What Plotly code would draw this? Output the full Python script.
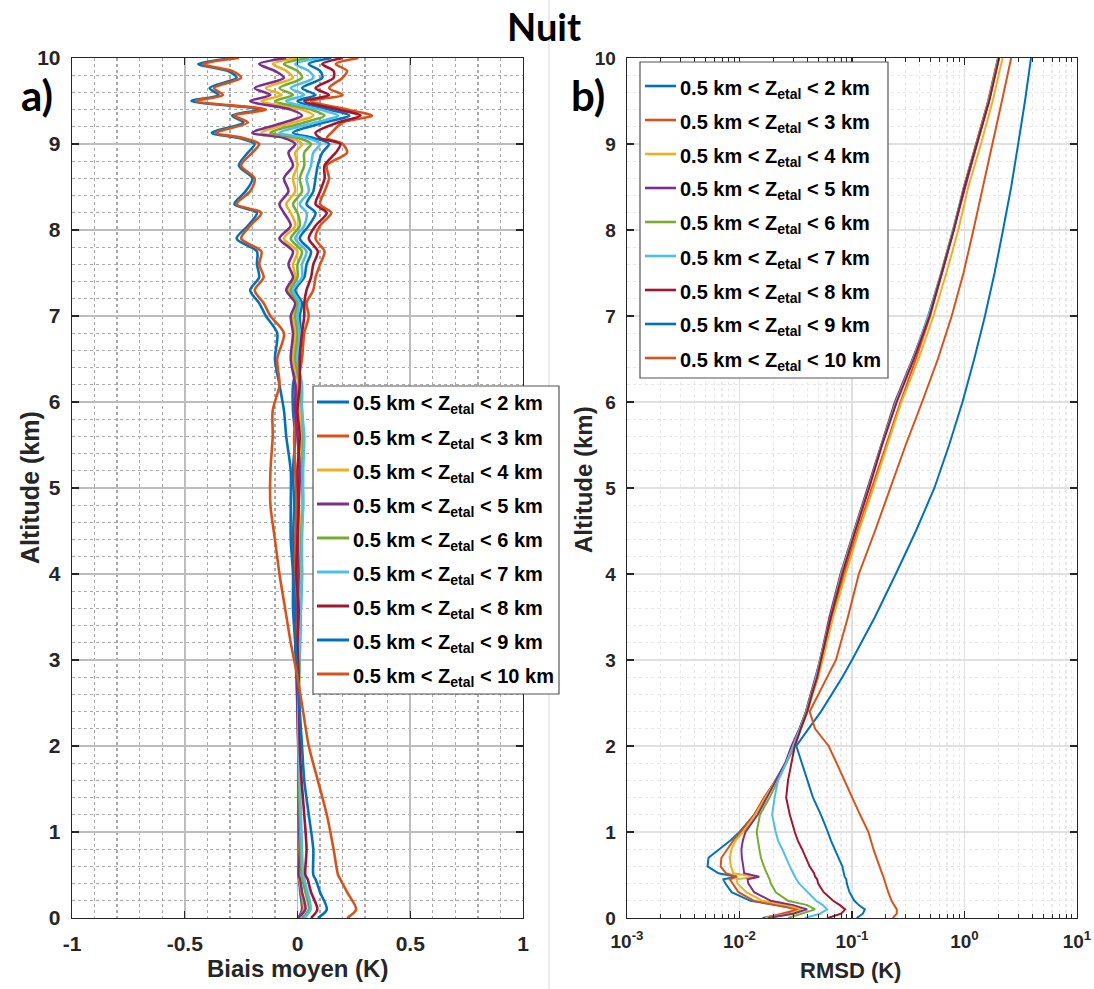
import plotly.graph_objects as go

# ---------------- data ----------------
labels = ["0.5 km &lt; Z<sub>etal</sub> &lt; 2 km", "0.5 km &lt; Z<sub>etal</sub> &lt; 3 km",
          "0.5 km &lt; Z<sub>etal</sub> &lt; 4 km", "0.5 km &lt; Z<sub>etal</sub> &lt; 5 km",
          "0.5 km &lt; Z<sub>etal</sub> &lt; 6 km", "0.5 km &lt; Z<sub>etal</sub> &lt; 7 km",
          "0.5 km &lt; Z<sub>etal</sub> &lt; 8 km", "0.5 km &lt; Z<sub>etal</sub> &lt; 9 km",
          "0.5 km &lt; Z<sub>etal</sub> &lt; 10 km"]
colors = ["#0072BD", "#D95319", "#EDB120", "#7E2F8E", "#77AC30",
          "#4DBEEE", "#A2142F", "#0072BD", "#D95319"]

# altitudes (km) for panel a
alt_a = [0, 0.1, 0.3, 0.45, 0.5, 0.8, 1.2, 1.6, 2.0, 2.4, 2.8, 3.2, 3.6, 4.0, 4.4, 4.8, 5.2,
         5.6, 5.9, 6.2, 6.5, 6.8, 7.0, 7.15, 7.3, 7.45, 7.6, 7.75, 7.9, 8.05, 8.2, 8.3, 8.45,
         8.6, 8.75, 8.9, 9.0, 9.07, 9.13, 9.25, 9.33, 9.4, 9.5, 9.57, 9.65, 9.77, 9.85, 9.93, 10.0]

bias_2km = [0.005, 0.02, 0.012, 0.007, 0.004, 0.005, 0.004, 0.004, 0.004,
            0.0, -0.005, -0.01, -0.01, -0.015, -0.02, -0.015, -0.02, -0.01, -0.02, -0.02,
            0.005, 0.015, 0.01, 0.02, -0.01, 0.03, 0.04, 0.06, 0.01, 0.05, 0.08, 0.04, 0.07, 0.08,
            0.09, 0.11, 0.14, 0.07, -0.02, 0.12, 0.23, 0.14, 0.0, 0.08, 0.02, 0.11, 0.1, 0.05, 0.15]
bias_3km = [0.005, 0.025, 0.015, 0.008, 0.004, 0.006, 0.004, 0.003, 0.004,
            0.004, 0.0, -0.005, 0.0, -0.01, -0.01, -0.005, -0.01, -0.015, -0.005, 0.0,
            0.02, 0.03, 0.05, 0.04, 0.07, 0.08, 0.1, 0.12, 0.08, 0.1, 0.15, 0.1, 0.12, 0.14,
            0.13, 0.22, 0.2, 0.13, 0.15, 0.2, 0.33, 0.22, 0.06, 0.2, 0.14, 0.2, 0.22, 0.17, 0.27]
bias_4km = [0.01, 0.03, 0.018, 0.01, 0.006, 0.008, 0.006, 0.004, 0.004,
            0.005, 0.005, 0.01, 0.01, 0.015, 0.01, 0.02, 0.015, 0.02, 0.01, 0.005,
            -0.02, -0.01, -0.02, 0.0, -0.04, -0.01, -0.02, 0.0, -0.06, -0.01, -0.03, -0.05, -0.01, -0.02,
            0.0, -0.01, 0.02, -0.03, -0.16, -0.02, 0.07, 0.02, -0.16, -0.07, -0.14, -0.02, -0.05, -0.11, 0.0]
bias_5km = [0.0, 0.035, 0.02, 0.012, 0.005, 0.01, 0.005, 0.005, 0.003,
            0.0, 0.0, 0.005, 0.0, 0.005, 0.0, 0.005, 0.01, 0.0, -0.01, -0.01,
            -0.03, -0.02, -0.03, -0.01, -0.05, -0.02, -0.04, -0.02, -0.08, -0.03, -0.06, -0.08, -0.04, -0.06,
            -0.02, -0.04, -0.01, -0.06, -0.2, -0.06, 0.02, -0.03, -0.21, -0.12, -0.19, -0.06, -0.1, -0.17, -0.05]
bias_6km = [0.02, 0.05, 0.035, 0.022, 0.018, 0.014, 0.01, 0.007, 0.005,
            0.005, 0.008, 0.012, 0.015, 0.02, 0.015, 0.025, 0.02, 0.025, 0.02, 0.01,
            -0.01, 0.0, -0.01, 0.0, -0.03, 0.0, 0.0, 0.02, -0.03, 0.01, 0.0, -0.02, 0.02, 0.01,
            0.03, 0.03, 0.06, 0.0, -0.12, 0.03, 0.12, 0.06, -0.1, -0.02, -0.08, 0.02, 0.0, -0.06, 0.05]
bias_7km = [0.03, 0.058, 0.045, 0.03, 0.025, 0.02, 0.015, 0.01, 0.005,
            0.004, 0.006, 0.01, 0.015, 0.02, 0.02, 0.025, 0.025, 0.03, 0.02, 0.02,
            0.0, 0.01, 0.0, 0.01, -0.02, 0.02, 0.02, 0.04, -0.01, 0.03, 0.04, 0.01, 0.05, 0.04,
            0.06, 0.07, 0.1, 0.04, -0.08, 0.08, 0.18, 0.1, -0.05, 0.03, -0.03, 0.07, 0.05, -0.01, 0.1]
bias_8km = [0.06, 0.088, 0.06, 0.045, 0.035, 0.04, 0.03, 0.018, 0.01,
            0.008, 0.005, 0.0, 0.005, -0.005, 0.0, 0.005, 0.0, 0.01, 0.0, 0.01,
            0.01, 0.02, 0.03, 0.03, 0.04, 0.06, 0.07, 0.09, 0.05, 0.08, 0.13, 0.08, 0.1, 0.12,
            0.12, 0.17, 0.19, 0.1, 0.08, 0.18, 0.28, 0.18, 0.03, 0.14, 0.08, 0.16, 0.16, 0.11, 0.2]
bias_9km = [0.09, 0.13, 0.1, 0.08, 0.07, 0.07, 0.05, 0.03, 0.02,
            0.01, 0.0, -0.01, -0.02, -0.02, -0.03, -0.03, -0.03, -0.05, -0.06, -0.08,
            -0.1, -0.09, -0.14, -0.17, -0.21, -0.17, -0.18, -0.18, -0.27, -0.22, -0.18, -0.28, -0.23, -0.2,
            -0.26, -0.22, -0.19, -0.26, -0.38, -0.24, -0.29, -0.17, -0.47, -0.35, -0.39, -0.27, -0.31, -0.44, -0.28]
bias_10km = [0.22, 0.26, 0.22, 0.19, 0.18, 0.16, 0.13, 0.09, 0.05,
             0.025, 0.0, -0.03, -0.055, -0.08, -0.1, -0.12, -0.12, -0.11, -0.11, -0.08,
             -0.09, -0.06, -0.12, -0.15, -0.19, -0.15, -0.17, -0.16, -0.25, -0.21, -0.16, -0.27, -0.21, -0.19,
             -0.25, -0.2, -0.17, -0.24, -0.36, -0.22, -0.28, -0.14, -0.45, -0.33, -0.37, -0.25, -0.29, -0.42, -0.26]

# altitudes (km) for panel b
alt_b = [0, 0.05, 0.1, 0.15, 0.2, 0.3, 0.4, 0.45, 0.48, 0.52, 0.6, 0.7, 0.8, 0.9, 1.0, 1.2, 1.4,
         1.6, 1.8, 2.0, 2.2, 2.4, 2.6, 2.8, 3.0, 3.5, 4.0, 4.5, 5.0, 5.5, 6.0, 6.5, 7.0, 7.5, 8.0,
         8.5, 9.0, 9.5, 10.0]

rmsd_2km = [0.016, 0.025, 0.036, 0.022, 0.0125, 0.0085, 0.0075, 0.0072, 0.0095, 0.0065, 0.0052,
            0.0053, 0.0066, 0.0083, 0.0100, 0.0135, 0.0170, 0.0210, 0.0255, 0.0300, 0.0340, 0.0390,
            0.0430, 0.0480, 0.0520, 0.0640, 0.0800, 0.1050, 0.1400, 0.1830, 0.2450, 0.3500, 0.4750,
            0.6200, 0.7900, 0.9900, 1.2700, 1.6300, 2.0000]
rmsd_3km = [0.017, 0.024, 0.033, 0.021, 0.0135, 0.0098, 0.0086, 0.0082, 0.0095, 0.0076, 0.0068,
            0.0069, 0.0078, 0.0088, 0.0102, 0.0135, 0.0165, 0.0210, 0.0260, 0.0310, 0.0350, 0.0400,
            0.0440, 0.0500, 0.0540, 0.0670, 0.0850, 0.1120, 0.1500, 0.2000, 0.2700, 0.3700, 0.4950,
            0.6300, 0.8000, 0.9900, 1.2700, 1.6200, 1.9800]
rmsd_4km = [0.017, 0.028, 0.036, 0.026, 0.016, 0.0115, 0.0096, 0.0094, 0.0140, 0.0088, 0.0084,
            0.0082, 0.0085, 0.0092, 0.0108, 0.0138, 0.0170, 0.0210, 0.0260, 0.0300, 0.0350, 0.0400,
            0.0450, 0.0500, 0.0550, 0.0680, 0.0880, 0.1150, 0.1550, 0.2050, 0.2750, 0.3900, 0.5300,
            0.6900, 0.8800, 1.0800, 1.4000, 1.7800, 2.1800]
rmsd_5km = [0.018, 0.030, 0.040, 0.030, 0.019, 0.0135, 0.0120, 0.0118, 0.0150, 0.0110, 0.0108,
            0.0105, 0.0104, 0.0107, 0.0113, 0.0145, 0.0175, 0.0210, 0.0255, 0.0290, 0.0340, 0.0390,
            0.0430, 0.0470, 0.0520, 0.0630, 0.0790, 0.1040, 0.1380, 0.1820, 0.2400, 0.3450, 0.4850,
            0.6300, 0.8000, 1.0000, 1.2900, 1.6500, 2.0200]
rmsd_6km = [0.027, 0.036, 0.047, 0.040, 0.027, 0.021, 0.019, 0.0185, 0.0180, 0.0175, 0.0165,
            0.0155, 0.0150, 0.0145, 0.0142, 0.0152, 0.0185, 0.0220, 0.0260, 0.0300, 0.0345, 0.0390,
            0.0435, 0.0480, 0.0520, 0.0640, 0.0800, 0.1050, 0.1400, 0.1830, 0.2450, 0.3500, 0.4800,
            0.6200, 0.7950, 0.9900, 1.2800, 1.6400, 2.0000]
rmsd_7km = [0.038, 0.052, 0.060, 0.055, 0.048, 0.040, 0.034, 0.032, 0.031, 0.030, 0.028,
            0.026, 0.024, 0.022, 0.021, 0.0195, 0.0205, 0.0220, 0.0260, 0.0300, 0.0345, 0.0395,
            0.0440, 0.0480, 0.0525, 0.0645, 0.0810, 0.1060, 0.1410, 0.1840, 0.2470, 0.3500, 0.4800,
            0.6250, 0.8000, 0.9900, 1.2900, 1.6500, 2.0100]
rmsd_8km = [0.061, 0.080, 0.087, 0.078, 0.068, 0.056, 0.050, 0.049, 0.047, 0.046, 0.042,
            0.039, 0.036, 0.033, 0.031, 0.028, 0.026, 0.027, 0.029, 0.031, 0.035, 0.040,
            0.044, 0.049, 0.053, 0.065, 0.082, 0.107, 0.142, 0.185, 0.250, 0.355, 0.490,
            0.630, 0.805, 1.000, 1.290, 1.660, 2.030]
rmsd_9km = [0.110, 0.125, 0.130, 0.115, 0.105, 0.095, 0.090, 0.089, 0.086, 0.085, 0.082,
            0.076, 0.070, 0.065, 0.061, 0.053, 0.045, 0.040, 0.036, 0.032, 0.041, 0.053,
            0.066, 0.082, 0.100, 0.160, 0.245, 0.370, 0.540, 0.730, 0.960, 1.220, 1.520,
            1.850, 2.200, 2.600, 3.000, 3.450, 3.900]
rmsd_10km = [0.230, 0.250, 0.250, 0.235, 0.225, 0.210, 0.200, 0.195, 0.190, 0.185, 0.175,
             0.165, 0.155, 0.148, 0.140, 0.118, 0.100, 0.085, 0.073, 0.062, 0.047, 0.042,
             0.050, 0.060, 0.072, 0.092, 0.115, 0.160, 0.220, 0.300, 0.420, 0.580, 0.770,
             0.980, 1.200, 1.450, 1.770, 2.150, 2.600]

bias_series = [bias_2km, bias_3km, bias_4km, bias_5km, bias_6km, bias_7km, bias_8km, bias_9km, bias_10km]
rmsd_series = [rmsd_2km, rmsd_3km, rmsd_4km, rmsd_5km, rmsd_6km, rmsd_7km, rmsd_8km, rmsd_9km, rmsd_10km]

lin_ticks = [-1, -0.5, 0, 0.5, 1]
lin_ticktext = ["-1", "-0.5", "0", "0.5", "1"]
log_ticks = [0.001, 0.01, 0.1, 1, 10]
log_ticktext = ["10<sup>-3</sup>", "10<sup>-2</sup>", "10<sup>-1</sup>", "10<sup>0</sup>", "10<sup>1</sup>"]
alt_ticks = [0, 1, 2, 3, 4, 5, 6, 7, 8, 9, 10]

# ---------------- layout helpers ----------------
W, H = 1094, 989


def fx(p):
    return p / W


def fy(p):
    return 1 - p / H


AX = "#262626"
FAM = "Liberation Sans, Arial"
TFONT_L = dict(family=FAM, size=21, color=AX, weight="bold")
TFONT_R = dict(family=FAM, size=19, color=AX, weight="bold")

fig = go.Figure()

for vals, col in zip(bias_series, colors):
    fig.add_trace(go.Scatter(x=vals, y=alt_a, mode="lines", xaxis="x", yaxis="y",
                             line=dict(color=col, width=2.6, shape="spline", smoothing=0.8),
                             showlegend=False, hoverinfo="skip"))
for vals, col in zip(rmsd_series, colors):
    fig.add_trace(go.Scatter(x=vals, y=alt_b, mode="lines", xaxis="x2", yaxis="y2",
                             line=dict(color=col, width=2.0),
                             showlegend=False, hoverinfo="skip"))


def common(font, standoff):
    return dict(showline=True, linecolor=AX, linewidth=1.3, mirror="ticks", ticks="inside",
                tickcolor=AX, tickwidth=1.3, ticklen=7, zeroline=False, tickfont=font,
                ticklabelstandoff=standoff, automargin=False)


fig.update_layout(
    template="none",
    width=W, height=H, margin=dict(l=0, r=0, t=0, b=0, pad=0, autoexpand=False),
    paper_bgcolor="white", plot_bgcolor="white", showlegend=False,
    xaxis=dict(domain=[fx(72), fx(523)], range=[-1, 1], tickmode="array",
               tickvals=lin_ticks, ticktext=lin_ticktext, anchor="y",
               showgrid=True, gridcolor="#bdbdbd", gridwidth=1.8,
               minor=dict(dtick=0.1, tick0=0, showgrid=True, gridcolor="#a9a9a9",
                          griddash="dot", gridwidth=1.3, ticks=""), **common(TFONT_L, 6)),
    yaxis=dict(domain=[fy(918), fy(58)], range=[0, 10], tickmode="array",
               tickvals=alt_ticks, anchor="x",
               showgrid=True, gridcolor="#bdbdbd", gridwidth=1.8,
               minor=dict(dtick=0.2, tick0=0, showgrid=True, gridcolor="#a9a9a9",
                          griddash="dot", gridwidth=1.3, ticks=""), **common(TFONT_L, 6)),
    xaxis2=dict(domain=[fx(627), fx(1077)], type="log", range=[-3, 1], tickmode="array",
                tickvals=log_ticks, ticktext=log_ticktext, anchor="y2",
                showgrid=True, gridcolor="#e0e0e0", gridwidth=1.2,
                minor=dict(dtick="D1", showgrid=True, gridcolor="#e8e8e8", griddash="dot",
                           ticks="inside", ticklen=4, tickcolor=AX, tickwidth=1),
                **common(TFONT_R, 6)),
    yaxis2=dict(domain=[fy(918), fy(58)], range=[0, 10], tickmode="array",
                tickvals=alt_ticks, anchor="x2",
                showgrid=True, gridcolor="#e0e0e0", gridwidth=1.2,
                minor=dict(dtick=0.2, tick0=0, showgrid=True, gridcolor="#e8e8e8",
                           griddash="dot", ticks=""), **common(TFONT_R, 6)),
)

shapes = []
annotations = []

# separator between the two panels
shapes.append(dict(type="line", xref="paper", yref="paper", x0=fx(549), x1=fx(549),
                   y0=0, y1=1, line=dict(color="#d6d6d6", width=1)))

# manual legends
LFONT = dict(family=FAM, size=20, color="black", weight="bold")


def add_legend(box, rows_y, line_x0, line_x1, text_x, width):
    shapes.append(dict(type="rect", xref="paper", yref="paper", layer="above",
                       x0=fx(box[0]), x1=fx(box[1]), y0=fy(box[3]), y1=fy(box[2]),
                       fillcolor="white", line=dict(color="#555555", width=1.2)))
    for lab, col, yy in zip(labels, colors, rows_y):
        shapes.append(dict(type="line", xref="paper", yref="paper", layer="above",
                           x0=fx(line_x0), x1=fx(line_x1), y0=fy(yy), y1=fy(yy),
                           line=dict(color=col, width=width)))
        annotations.append(dict(xref="paper", yref="paper", x=fx(text_x), y=fy(yy + 3),
                                text=lab, showarrow=False, xanchor="left", yanchor="middle",
                                font=LFONT))


add_legend((313, 559, 386, 694), [402 + 34 * i for i in range(9)], 317, 349, 351, 3.0)
add_legend((640, 888, 62, 378), [86 + 34 * i for i in range(9)], 645, 676, 678, 2.6)

TITLE_FONT = dict(family="Lato, Open Sans", size=38, color="black", weight="bold")
annotations += [
    dict(xref="paper", yref="paper", x=fx(544), y=fy(26), text="Nuit", showarrow=False,
         xanchor="center", yanchor="middle", font=TITLE_FONT),
    dict(xref="paper", yref="paper", x=fx(37), y=fy(95), text="a)", showarrow=False,
         xanchor="center", yanchor="middle",
         font=dict(family="Lato, Open Sans", size=42, color="black", weight="bold")),
    dict(xref="paper", yref="paper", x=fx(588), y=fy(95), text="b)", showarrow=False,
         xanchor="center", yanchor="middle",
         font=dict(family="Lato, Open Sans", size=42, color="black", weight="bold")),
    dict(xref="paper", yref="paper", x=fx(297), y=fy(968), text="Biais moyen (K)",
         showarrow=False, xanchor="center", yanchor="middle",
         font=dict(family=FAM, size=24, color=AX, weight="bold")),
    dict(xref="paper", yref="paper", x=fx(850), y=fy(970), text="RMSD (K)",
         showarrow=False, xanchor="center", yanchor="middle",
         font=dict(family=FAM, size=22, color=AX, weight="bold")),
    dict(xref="paper", yref="paper", x=fx(30), y=fy(488), text="Altitude (km)",
         showarrow=False, xanchor="center", yanchor="middle", textangle=-90,
         font=dict(family=FAM, size=25, color=AX, weight="bold")),
    dict(xref="paper", yref="paper", x=fx(583), y=fy(480), text="Altitude (km)",
         showarrow=False, xanchor="center", yanchor="middle", textangle=-90,
         font=dict(family=FAM, size=24, color=AX, weight="bold")),
]

fig.update_layout(shapes=shapes, annotations=annotations)
fig.write_html("out.html", config={"displayModeBar": False, "staticPlot": True},
               post_script="document.body.style.margin='0px';document.body.style.overflow='hidden';")
